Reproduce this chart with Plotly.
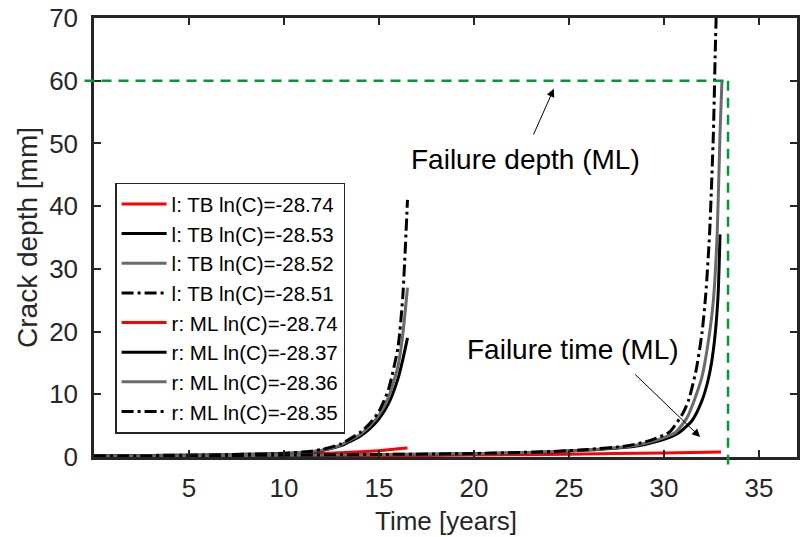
import plotly.graph_objects as go

# ---------------- data ----------------
t_tb = [0, 3, 6, 8, 10, 11, 12, 13, 14, 14.5, 15, 15.5, 16, 16.25, 16.5]
tb_black = [0.2, 0.25, 0.33, 0.42, 0.55, 0.72, 1.05, 1.8, 3.3, 4.5, 6.1, 8.5, 12.5, 15.5, 19.0]
tb_gray = [0.2, 0.25, 0.33, 0.42, 0.56, 0.75, 1.1, 1.95, 3.6, 4.9, 6.7, 9.5, 14.5, 19.5, 27.0]
tb_dashdot = [0.2, 0.25, 0.33, 0.43, 0.58, 0.78, 1.2, 2.1, 3.9, 5.3, 7.3, 10.8, 17.5, 25.5, 41.0]
t_tb_red = [0, 4, 8, 10, 12, 14, 15, 16, 16.5]
tb_red = [0.1, 0.15, 0.25, 0.35, 0.55, 0.85, 1.0, 1.3, 1.45]

t_ml_black = [0, 5, 10, 15, 20, 24, 26, 28, 29, 30, 30.8, 31.5, 32.0, 32.3, 32.5, 32.7, 32.85, 32.95]
ml_black = [0.15, 0.2, 0.28, 0.38, 0.52, 0.8, 1.1, 1.55, 2.0, 2.8, 3.9, 5.9, 9.0, 12.0, 15.0, 19.8, 26.0, 35.5]
t_ml_gray = [0, 5, 10, 15, 20, 24, 26, 28, 29, 30, 30.6, 31.2, 31.6, 32.0, 32.4, 32.6, 32.8, 32.95, 33.05]
ml_gray = [0.15, 0.2, 0.28, 0.38, 0.53, 0.82, 1.15, 1.65, 2.2, 3.1, 3.9, 6.2, 9.1, 12.8, 19.8, 25.0, 35.7, 51.7, 60.0]
t_ml_dashdot = [0, 5, 10, 15, 20, 24, 26, 28, 29, 29.6, 30.3, 31.0, 31.3, 31.7, 32.0, 32.2, 32.4, 32.6, 32.7, 32.78]
ml_dashdot = [0.15, 0.2, 0.3, 0.4, 0.56, 0.86, 1.2, 1.75, 2.4, 3.0, 4.0, 7.0, 9.1, 14.0, 19.8, 26.0, 35.7, 51.7, 65.0, 74.0]
t_ml_red = [0, 5, 10, 15, 20, 25, 30, 33]
ml_red = [0.05, 0.1, 0.15, 0.22, 0.3, 0.45, 0.65, 0.8]

labels = [
    "l: TB ln(C)=-28.74", "l: TB ln(C)=-28.53", "l: TB ln(C)=-28.52", "l: TB ln(C)=-28.51",
    "r: ML ln(C)=-28.74", "r: ML ln(C)=-28.37", "r: ML ln(C)=-28.36", "r: ML ln(C)=-28.35",
]

failure_depth = 60.0
failure_time = 33.37
x_range = [0, 37]
y_range = [0, 70]
x_ticks = [5, 10, 15, 20, 25, 30, 35]
y_ticks = [0, 10, 20, 30, 40, 50, 60, 70]
ref_line_start_x = -0.5
ref_line_end_y = -1.2

# ---------------- styling ----------------
RED = "#ff0000"
BLACK = "#000000"
GRAY = "#6a6a6a"
GREEN = "#009933"
AX = "#262626"
FONT = "Arial, Liberation Sans, Helvetica, sans-serif"
DASHDOT = "12px,4px,3px,4px"

fig = go.Figure()

series = [
    (t_tb_red, tb_red, RED, "solid"),
    (t_tb, tb_black, BLACK, "solid"),
    (t_tb, tb_gray, GRAY, "solid"),
    (t_tb, tb_dashdot, BLACK, DASHDOT),
    (t_ml_red, ml_red, RED, "solid"),
    (t_ml_black, ml_black, BLACK, "solid"),
    (t_ml_gray, ml_gray, GRAY, "solid"),
    (t_ml_dashdot, ml_dashdot, BLACK, DASHDOT),
]
for (xs, ys, col, dash), name in zip(series, labels):
    fig.add_trace(go.Scatter(
        x=xs, y=ys, mode="lines", name=name,
        line=dict(color=col, width=3, dash=dash, shape="spline", smoothing=0.6),
    ))

# green failure reference lines (extend slightly outside the axes as in reference)
span_x = x_range[1] - x_range[0]
span_y = y_range[1] - y_range[0]
fig.add_shape(type="line", xref="paper", yref="y",
              x0=(ref_line_start_x - x_range[0]) / span_x,
              x1=(failure_time - x_range[0]) / span_x,
              y0=failure_depth, y1=failure_depth,
              line=dict(color=GREEN, width=2.5, dash="10px,7px"), layer="above")
fig.add_shape(type="line", xref="x", yref="paper",
              x0=failure_time, x1=failure_time,
              y0=(failure_depth - y_range[0]) / span_y,
              y1=(ref_line_end_y - y_range[0]) / span_y,
              line=dict(color=GREEN, width=2.5, dash="10px,7px"), layer="above")

# annotations
fig.add_annotation(x=24.2, y=58.7, ax=23.1, ay=51.2, axref="x", ayref="y",
                   text="", showarrow=True, arrowhead=2, arrowsize=1.6,
                   arrowwidth=1, arrowcolor="#000000")
fig.add_annotation(x=22.7, y=47.4, xref="x", yref="y", text="Failure depth (ML)",
                   showarrow=False, font=dict(family=FONT, size=28, color="#000000"))
fig.add_annotation(x=31.9, y=3.2, ax=28.4, ay=13.4, axref="x", ayref="y",
                   text="", showarrow=True, arrowhead=2, arrowsize=1.6,
                   arrowwidth=1, arrowcolor="#000000")
fig.add_annotation(x=25.2, y=17.2, xref="x", yref="y", text="Failure time (ML)",
                   showarrow=False, font=dict(family=FONT, size=28, color="#000000"))

# x-axis title as an annotation (keeps it inside the canvas)
fig.add_annotation(x=0.5, y=0, xref="paper", yref="paper", xanchor="center",
                   yanchor="top", yshift=-47, text="Time [years]", showarrow=False,
                   font=dict(family=FONT, size=26, color=AX))

fig.update_layout(
    width=802, height=537,
    margin=dict(l=94, r=5, t=18, b=80),
    paper_bgcolor="white", plot_bgcolor="white",
    font=dict(family=FONT, size=24, color=AX),
    showlegend=True,
    legend=dict(x=0.03, y=0.625, xanchor="left", yanchor="top",
                bgcolor="white", bordercolor=AX, borderwidth=1.5,
                font=dict(family=FONT, size=20.5, color="#000000"),
                tracegroupgap=0, itemwidth=45),
)
fig.update_xaxes(range=x_range, tickvals=x_ticks, ticks="inside", ticklen=7,
                 tickwidth=2, tickcolor=AX, showline=True, linewidth=2.5,
                 linecolor=AX, mirror="ticks", showgrid=False, zeroline=False,
                 automargin=False,
                 tickfont=dict(size=26, color=AX), ticklabelstandoff=6)
fig.update_yaxes(range=y_range, tickvals=y_ticks, ticks="inside", ticklen=7,
                 tickwidth=2, tickcolor=AX, showline=True, linewidth=2.5,
                 linecolor=AX, mirror="ticks", showgrid=False, zeroline=False,
                 automargin=False,
                 title=dict(text="Crack depth [mm]", font=dict(size=28, color=AX), standoff=4),
                 tickfont=dict(size=26, color=AX), ticklabelstandoff=8)

fig.write_html("out.html",
               config={"displayModeBar": False},
               post_script="document.body.style.margin='0';document.body.style.overflow='hidden';")
